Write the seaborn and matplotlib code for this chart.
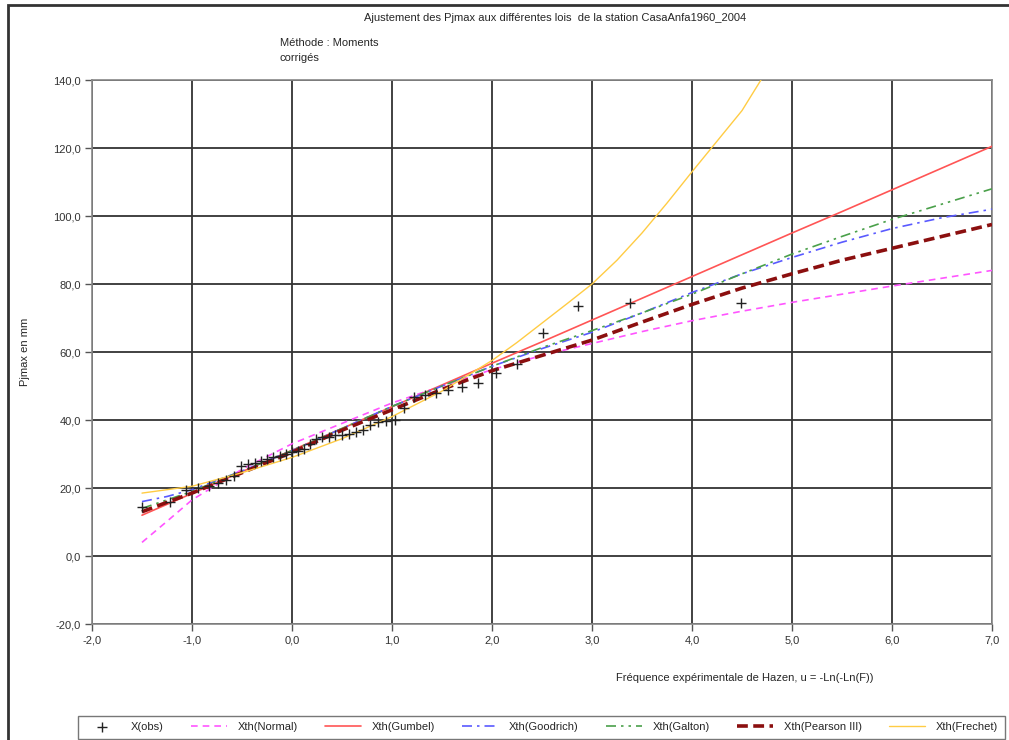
import numpy as np
import pandas as pd
import matplotlib
matplotlib.use('Agg')
import matplotlib.pyplot as plt
from matplotlib.patches import Rectangle
from matplotlib.ticker import FuncFormatter, MultipleLocator
import seaborn as sns

# Observed maxima (Hazen reduced variate u, Pjmax in mm)
u_obs = [-1.504, -1.224, -1.061, -0.938, -0.834, -0.743, -0.660, -0.583, -0.511,
         -0.442, -0.375, -0.311, -0.248, -0.186, -0.124, -0.064, -0.003, 0.057,
         0.118, 0.179, 0.241, 0.303, 0.367, 0.431, 0.498, 0.566, 0.636, 0.708,
         0.783, 0.862, 0.944, 1.031, 1.123, 1.220, 1.325, 1.439, 1.564, 1.702,
         1.858, 2.037, 2.250, 2.514, 2.862, 3.384, 4.494]
x_obs = [14.5, 16.0, 19.5, 20.0, 20.5, 21.5, 22.5, 23.5, 26.5,
         27.0, 27.5, 28.0, 28.5, 29.0, 29.5, 30.0, 30.5, 31.0,
         31.5, 33.0, 34.5, 35.0, 35.0, 35.5, 35.5, 36.0, 36.5, 37.0,
         38.5, 39.5, 39.7, 40.0, 43.5, 46.8, 47.3, 47.9, 48.8, 49.8,
         50.8, 53.8, 56.5, 65.6, 73.5, 74.5, 74.5]

# Fitted quantiles read at these u values
u_fit = [-1.5, -1.25, -1.0, -0.5, 0.0, 0.5, 1.0, 1.5, 2.0, 2.5, 3.0, 3.5, 4.0,
         4.5, 5.0, 5.5, 6.0, 6.5, 7.0]
x_normal = [4.0, 10.2, 16.5, 25.5, 33.0, 39.0, 45.0, 50.0, 54.8, 59.0, 62.5, 66.0,
            69.2, 72.0, 74.6, 77.0, 79.4, 81.7, 84.0]
x_gumbel = [12.0, 15.2, 18.4, 24.8, 31.1, 37.5, 43.9, 50.3, 56.7, 63.0, 69.4, 75.8,
            82.2, 88.6, 95.0, 101.3, 107.7, 114.1, 120.5]
x_goodrich = [16.0, 17.5, 19.5, 25.0, 31.0, 37.5, 44.0, 50.0, 55.8, 61.0, 65.8, 71.5,
              77.5, 83.0, 87.8, 92.3, 96.3, 99.5, 102.0]
x_galton = [14.0, 16.5, 19.0, 25.0, 31.0, 37.5, 44.0, 50.0, 55.8, 61.3, 66.3, 71.5,
            77.0, 83.0, 88.8, 94.0, 99.0, 103.5, 108.0]
x_pearson = [13.0, 15.8, 18.5, 24.5, 30.5, 37.0, 43.0, 49.0, 54.5, 59.0, 63.5, 68.8,
             74.0, 78.8, 83.0, 87.0, 90.5, 94.0, 97.5]
u_frechet = [-1.5, -1.0, -0.5, 0.0, 0.5, 1.0, 1.5, 2.0, 2.25, 2.5, 2.75, 3.0, 3.25,
             3.5, 3.75, 4.0, 4.25, 4.5, 4.7]
x_frechet = [18.5, 20.5, 24.5, 29.0, 34.5, 41.0, 48.5, 57.5, 62.8, 68.5, 74.2, 80.0,
             87.0, 95.0, 103.8, 113.0, 122.0, 131.0, 140.5]

series = [
    ('Xth(Normal)', u_fit, x_normal, '#ff55ff', (0, (4, 3)), 1.2),
    ('Xth(Gumbel)', u_fit, x_gumbel, '#ff5555', '-', 1.2),
    ('Xth(Goodrich)', u_fit, x_goodrich, '#5a5aff', (0, (6, 3, 1.5, 3)), 1.2),
    ('Xth(Galton)', u_fit, x_galton, '#4aa04a', (0, (6, 3, 1.5, 3, 1.5, 3)), 1.2),
    ('Xth(Pearson III)', u_fit, x_pearson, '#8b0f0f', (0, (3, 1.5)), 2.6),
    ('Xth(Frechet)', u_frechet, x_frechet, '#ffcc44', '-', 1.0),
]

sns.set_style('white')
plt.rcParams['font.family'] = ['Liberation Sans', 'DejaVu Sans']

fig = plt.figure(figsize=(10.09, 7.4), dpi=100)
ax = fig.add_axes([92 / 1009, 1 - 624 / 740, 900 / 1009, 544 / 740])

obs = pd.DataFrame({'u': u_obs, 'x': x_obs})
sns.scatterplot(data=obs, x='u', y='x', marker='+', s=60, color='#222222',
                linewidth=1.0, ax=ax, label='X(obs)', zorder=5)

for label, uu, xx, col, ls, lw in series:
    df = pd.DataFrame({'u': uu, 'x': xx})
    sns.lineplot(data=df, x='u', y='x', color=col, linestyle=ls, linewidth=lw,
                 sort=False, ax=ax, label=label, zorder=3)

ax.set_xlim(-2, 7)
ax.set_ylim(-20, 140)
ax.xaxis.set_major_locator(MultipleLocator(1))
ax.yaxis.set_major_locator(MultipleLocator(20))
fmt = FuncFormatter(lambda v, p: f'{v:.1f}'.replace('.', ','))
ax.xaxis.set_major_formatter(fmt)
ax.yaxis.set_major_formatter(fmt)
ax.grid(True, color='#333333', linewidth=1.3)
ax.set_axisbelow(True)
ax.tick_params(axis='both', labelsize=8, length=5, width=1, color='#555555',
               labelcolor='#333333', direction='out', left=True, bottom=True, pad=3)
for sp in ax.spines.values():
    sp.set_color('#888888')
    sp.set_linewidth(1.2)

ax.set_xlabel('')
ax.set_ylabel('Pjmax en mm', fontsize=8)
ax.yaxis.set_label_coords(-62 / 900, 0.5)
fig.text(745 / 1009, 1 - 678 / 740, 'Fréquence expérimentale de Hazen, u = -Ln(-Ln(F))',
         ha='center', va='center', fontsize=8)

fig.text(555 / 1009, 1 - 18 / 740,
         'Ajustement des Pjmax aux différentes lois  de la station CasaAnfa1960_2004',
         ha='center', va='center', fontsize=8)
fig.text(280 / 1009, 1 - 43 / 740, 'Méthode : Moments', ha='left', va='center', fontsize=8)
fig.text(280 / 1009, 1 - 58 / 740, 'corrigés', ha='left', va='center', fontsize=8)

handles, labels = ax.get_legend_handles_labels()
ax.legend(handles, labels, loc='upper left', bbox_to_anchor=(72 / 1009, 1 - 710 / 740),
          bbox_transform=fig.transFigure, ncol=7, fontsize=8, frameon=True,
          fancybox=False, edgecolor='#555555', handlelength=3.2, handletextpad=1.0,
          columnspacing=2.45, borderpad=0.6)

fig.patches.append(Rectangle((8 / 1009, -0.1), 1.2, 1 - 5 / 740 + 0.1,
                             transform=fig.transFigure, fill=False,
                             edgecolor='#333333', linewidth=2.0))

fig.savefig('out.png', dpi=100)
